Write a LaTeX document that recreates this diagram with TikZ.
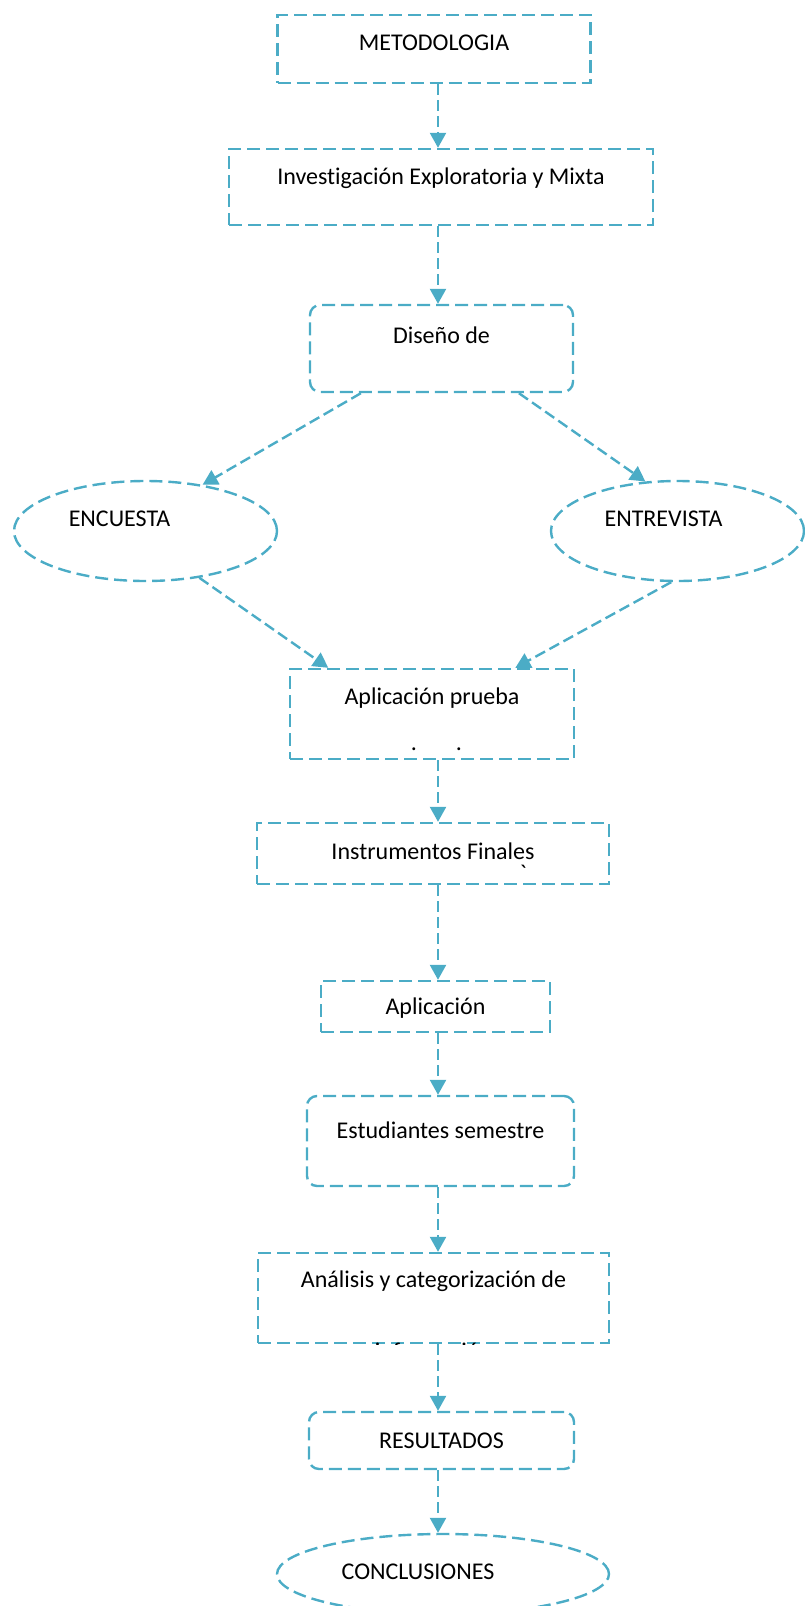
\documentclass[tikz,border=0pt]{standalone}
\usepackage{fontspec}
\setmainfont[Ligatures = NoCommon]{Carlito}
\usepackage{tikz}
\usetikzlibrary{shapes.geometric, arrows.meta, positioning}
\definecolor{azulclaro}{RGB}{75,172,198}
\tikzstyle{caja} = [rectangle, draw = azulclaro, line width = 2.4pt, dash pattern = on 13pt off 6pt, inner sep = 0pt, text height = 16pt, text depth = 1pt, text centered]
\tikzstyle{redonda} = [caja, rounded corners = 10pt]
\tikzstyle{ovalo} = [ellipse, draw = azulclaro, line width = 2.4pt, dash pattern = on 13pt off 6pt, inner sep = 0pt, text height = 16pt, text depth = 1pt]
\tikzstyle{fleche} = [-{Triangle[length = 15pt, width = 16pt]}, draw = azulclaro, line width = 2.4pt, dash pattern = on 11pt off 5pt]

\begin{document}
\begin{tikzpicture}[node distance = 140pt, font = \fontsize{24}{28}\selectfont]

\useasboundingbox (0,0) rectangle (805pt,-1606pt);
\coordinate (axe) at (438pt,0);

\node (met) [caja, minimum width = 313pt, minimum height = 68pt, text depth = 13pt] at (434pt,-49pt) {METODOLOGIA};
\node (inv) [caja, below of = met, xshift = 7pt, yshift = 2pt, minimum width = 424pt, minimum height = 76pt, text depth = 21pt] {Investigación Exploratoria y Mixta};
\node (dis) [redonda, below of = inv, xshift = 0.5pt, yshift = -21.5pt, minimum width = 263pt, minimum height = 87pt, text depth = 26pt] {Diseño de};

\node (enc) [ovalo, below of = dis, xshift = -296pt, yshift = -42.5pt, minimum width = 263pt, minimum height = 100pt, text depth = 25pt] {ENCUESTA\hspace{52pt}\mbox{}};
\node (ent) [ovalo, below of = dis, xshift = 236pt, yshift = -42.5pt, minimum width = 253pt, minimum height = 100pt, text depth = 25pt] {ENTREVISTA\hspace{28pt}\mbox{}};

\node (app) [caja, below of = dis, xshift = -9.5pt, yshift = -225.5pt, minimum width = 284pt, minimum height = 90pt, text depth = 35pt] {Aplicación prueba};
\node (appdots) [anchor = base, xshift = 4.5pt, yshift = 10pt] at (app.south) {.\hspace{39pt}.};

\node (ins) [caja, below of = app, xshift = 1pt, yshift = 0.5pt, minimum width = 352pt, minimum height = 61pt, text depth = 4pt] {Instrumentos Finales};
\node (insmark) [anchor = base, xshift = 90pt, yshift = 4pt] at (ins.south) {\textasciigrave};

\node (apl) [caja, below of = ins, xshift = 2.5pt, yshift = -13pt, minimum width = 229pt, minimum height = 51pt] {Aplicación};
\node (est) [redonda, below of = apl, xshift = 5pt, yshift = 5.5pt, minimum width = 267pt, minimum height = 90pt, text depth = 21pt] {Estudiantes semestre};

\node (ana) [caja, below of = est, xshift = -7pt, yshift = -17pt, minimum width = 351pt, minimum height = 90pt, text depth = 37pt] {Análisis y categorización de};
\begin{scope}
\clip (ana.south west) rectangle (ana.north east);
\node (anainfo) [anchor = base, yshift = -15pt] at (ana.south) {información};
\end{scope}

\node (res) [redonda, below of = ana, xshift = 8pt, yshift = -2.5pt, minimum width = 265pt, minimum height = 57pt] {RESULTADOS};
\node (con) [ovalo, below of = res, xshift = 1.5pt, yshift = 6.5pt, minimum width = 332pt, minimum height = 80pt, text depth = 5pt] {CONCLUSIONES\hspace{50pt}\mbox{}};

\draw [fleche] (met.south -| axe) -- (inv.north -| axe);
\draw [fleche] (inv.south -| axe) -- (dis.north -| axe);

\draw [fleche] (dis.209) -- (enc.39);
\draw [fleche] (dis.330) -- (ent.123);
\draw [fleche] (enc.319) -- (app.156);
\draw [fleche] (ent.263) -- (app.29);

\draw [fleche] (app.south -| axe) -- (ins.north -| axe);
\draw [fleche] (ins.south -| axe) -- (apl.north -| axe);
\draw [fleche] (apl.south -| axe) -- (est.north -| axe);
\draw [fleche] (est.south -| axe) -- (ana.north -| axe);
\draw [fleche] (ana.south -| axe) -- (res.north -| axe);
\draw [fleche] (res.south -| axe) -- (con.north -| axe);

\end{tikzpicture}
\end{document}
